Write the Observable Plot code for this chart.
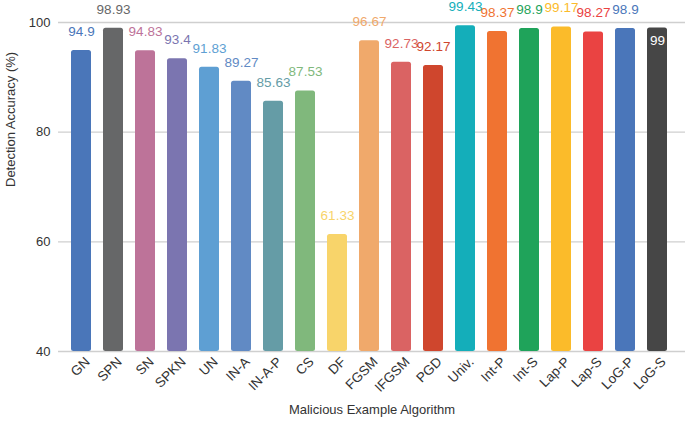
<!DOCTYPE html>
<html>
<head>
<meta charset="utf-8">
<script src="https://cdn.jsdelivr.net/npm/d3@7"></script>
<script src="https://cdn.jsdelivr.net/npm/@observablehq/plot@0.6"></script>
<style>
  html, body { margin: 0; padding: 0; background: #fff; }
  svg { display: block; }
</style>
</head>
<body>
<div id="chart"></div>
<script>
const categories = ["GN","SPN","SN","SPKN","UN","IN-A","IN-A-P","CS","DF","FGSM","IFGSM","PGD","Univ.","Int-P","Int-S","Lap-P","Lap-S","LoG-P","LoG-S"];
const values = [94.9,98.93,94.83,93.4,91.83,89.27,85.63,87.53,61.33,96.67,92.73,92.17,99.43,98.37,98.9,99.17,98.27,98.9,99];
const colors = ["#4a76b9","#666768","#bd7399","#7b75b0","#5e9fd3","#618ac4","#659ca6","#80b87c","#f8d46a","#f0a96b","#da6363","#cf462d","#14aeba","#f07331","#1fa35a","#fbbb2a","#ea4342","#4a76ba","#464646"];
const yTicks = [40, 60, 80, 100];
const xTitle = "Malicious Example Algorithm";
const yTitle = "Detection Accuracy (%)";

const data = categories.map((c, i) => ({category: c, value: values[i], color: colors[i]}));
const above = data.filter(d => d.category !== "LoG-S");
const inside = data.filter(d => d.category === "LoG-S");

const font = "'Liberation Sans', Arial, Helvetica, sans-serif";

const chart = Plot.plot({
  width: 685,
  height: 422,
  marginTop: 22,
  marginBottom: 71,
  marginLeft: 58,
  marginRight: 0,
  style: {fontFamily: font, fontSize: "13px", color: "#333", background: "#fff"},
  x: {domain: categories, range: [62, 675], paddingInner: 0.38, paddingOuter: 0.19, label: null},
  y: {domain: [40, 100], label: null},
  marks: [
    Plot.gridY(yTicks, {stroke: "#cfcfcf", strokeOpacity: 1, strokeWidth: 1.3}),
    Plot.axisY(yTicks, {tickSize: 0, tickPadding: 8, label: null, fill: "#333", fontSize: 13}),
    Plot.axisX({tickSize: 0, tickRotate: -45, tickPadding: 6, label: null, fill: "#333", fontSize: 13.5, dx: 6, dy: 2}),
    Plot.barY(data, {x: "category", y1: 40, y2: "value", fill: "color", rx: 2.5}),
    Plot.text(above, {x: "category", y: "value", text: d => String(d.value), fill: "color", dy: -19, fontSize: 13.5}),
    Plot.text(inside, {x: "category", y: "value", text: d => String(d.value), fill: "white", dy: 13, fontSize: 13.5}),
    Plot.text([xTitle], {frameAnchor: "bottom", dy: 62, fill: "#333", fontSize: 13}),
    Plot.text([yTitle], {frameAnchor: "left", rotate: -90, dx: -48, fill: "#333", fontSize: 13})
  ]
});
document.getElementById("chart").appendChild(chart);
</script>
</body>
</html>
